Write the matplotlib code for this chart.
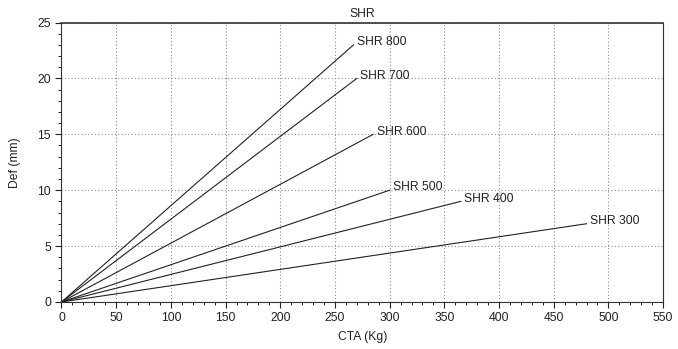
import matplotlib
matplotlib.use('Agg')
import matplotlib.pyplot as plt
from matplotlib.ticker import MultipleLocator

plt.rcParams['font.family'] = ['Liberation Sans', 'DejaVu Sans']

# 数据：每条线从原点到终点
labels = ['SHR 800', 'SHR 700', 'SHR 600', 'SHR 500', 'SHR 400', 'SHR 300']
end_x = [267, 270, 285, 300, 365, 480]
end_y = [23, 20, 15, 10, 9, 7]

fig = plt.figure(figsize=(6.78, 3.49), dpi=100)
ax = fig.add_axes([0.0907, 0.1347, 0.8873, 0.8008])

for lab, x1, y1 in zip(labels, end_x, end_y):
    ax.plot([0, x1], [0, y1], color='#222222', linewidth=0.8)
    ax.text(x1 + 3, y1 + 0.25, lab, fontsize=8.7, va='center', ha='left', color='#222222')

ax.set_xlim(0, 550)
ax.set_ylim(0, 25)
ax.xaxis.set_major_locator(MultipleLocator(50))
ax.xaxis.set_minor_locator(MultipleLocator(10))
ax.yaxis.set_major_locator(MultipleLocator(5))
ax.yaxis.set_minor_locator(MultipleLocator(1))
ax.tick_params(which='major', direction='out', length=4, width=0.8, labelsize=8.7, colors='#222222')
ax.tick_params(which='minor', direction='out', length=2.5, width=0.6)

ax.grid(True, which='major', linestyle=(0, (1, 2)), color='#8a8a8a', linewidth=0.8)
for s in ax.spines.values():
    s.set_color('#333333')
    s.set_linewidth(0.8)
ax.spines['top'].set_linewidth(1.2)

ax.set_title('SHR', fontsize=8.7, pad=4, color='#222222')
ax.set_xlabel('CTA (Kg)', fontsize=8.7, labelpad=5, color='#222222')
ax.set_ylabel('Def (mm)', fontsize=8.7, labelpad=12, color='#222222')

plt.savefig('out.png', dpi=100, facecolor='white')
plt.close()
